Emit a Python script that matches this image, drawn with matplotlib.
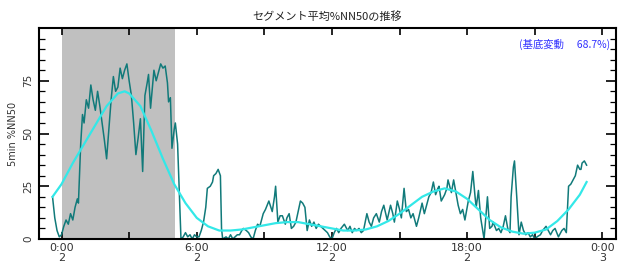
import matplotlib
matplotlib.use("Agg")
import matplotlib.pyplot as plt

# time in hours from 0:00 (day 2), 5min %NN50 values
t_hours = [-0.4, -0.3, -0.2, -0.1, 0.0, 0.1, 0.2, 0.3, 0.4, 0.5, 0.6, 0.7, 0.75, 0.85, 0.93,
           1.0, 1.1, 1.2, 1.3, 1.4, 1.5, 1.6, 1.7, 1.8, 1.9, 2.0, 2.1, 2.2, 2.3, 2.4, 2.5,
           2.6, 2.7, 2.8, 2.9, 3.0, 3.1, 3.2, 3.3, 3.4, 3.5, 3.6, 3.7, 3.8, 3.86, 3.95, 4.1,
           4.2, 4.3, 4.4, 4.5, 4.6, 4.7, 4.75, 4.83, 4.9, 5.0, 5.05, 5.15, 5.3, 5.4, 5.5,
           5.6, 5.7, 5.8, 5.9, 6.0, 6.1, 6.2, 6.3, 6.4, 6.47, 6.6, 6.7, 6.75, 6.85, 6.95,
           7.05, 7.1, 7.15, 7.3, 7.4, 7.5, 7.6, 7.7, 7.8, 7.9, 8.0, 8.07, 8.2, 8.3, 8.4,
           8.5, 8.6, 8.7, 8.8, 8.95, 9.05, 9.2, 9.35, 9.45, 9.5, 9.6, 9.7, 9.8, 9.93, 10.0,
           10.1, 10.2, 10.3, 10.4, 10.5, 10.6, 10.7, 10.8, 10.9, 11.0, 11.1, 11.2, 11.3,
           11.4, 11.5, 11.6, 11.7, 11.8, 11.9, 12.0, 12.1, 12.2, 12.3, 12.4, 12.55, 12.7,
           12.8, 12.9, 13.0, 13.1, 13.2, 13.3, 13.4, 13.55, 13.65, 13.75, 13.85, 13.97,
           14.1, 14.2, 14.3, 14.45, 14.6, 14.7, 14.77, 14.9, 15.0, 15.08, 15.2, 15.3, 15.4,
           15.5, 15.6, 15.75, 15.85, 16.0, 16.1, 16.2, 16.3, 16.4, 16.5, 16.6, 16.7, 16.75,
           16.85, 17.0, 17.1, 17.15, 17.3, 17.4, 17.5, 17.6, 17.7, 17.8, 17.9, 18.05, 18.15,
           18.25, 18.35, 18.4, 18.5, 18.6, 18.75, 18.9, 19.0, 19.1, 19.15, 19.3, 19.4, 19.5,
           19.6, 19.7, 19.8, 19.9, 19.95, 20.05, 20.1, 20.2, 20.3, 20.4, 20.5, 20.6, 20.7,
           20.8, 20.9, 21.0, 21.1, 21.25, 21.35, 21.5, 21.6, 21.7, 21.8, 21.9, 22.05, 22.2,
           22.3, 22.4, 22.5, 22.6, 22.7, 22.8, 22.9, 23.0, 23.05, 23.1, 23.2, 23.3]
nn50 = [20, 10, 4, 1, 2, 6, 9, 7, 12, 9, 15, 19, 17, 45, 59,
        55, 66, 62, 73, 66, 61, 70, 63, 55, 47, 38, 52, 66, 77, 70, 72,
        81, 76, 80, 83, 75, 68, 55, 40, 48, 57, 32, 68, 74, 78, 62, 80,
        75, 79, 83, 81, 82, 74, 65, 67, 43, 52, 55, 45, 0, 1, 3,
        1, 2, 0, 2, 1, 1, 4, 8, 15, 24, 25, 27, 30, 31, 33,
        30, 5, 0, 1, 0, 2, 0, 1, 2, 2, 4, 5, 4, 3, 1,
        0, 4, 7, 6, 12, 14, 18, 13, 20, 25, 8, 11, 11, 7, 10,
        12, 5, 6, 8, 13, 18, 17, 15, 4, 9, 6, 8, 5,
        7, 6, 5, 4, 3, 1, 0, 3, 5, 3, 5, 7, 4,
        6, 3, 5, 4, 5, 3, 4, 12, 8, 6, 10, 12,
        8, 13, 16, 9, 16, 12, 8, 18, 14, 10, 24, 13, 14,
        10, 12, 6, 10, 17, 12, 16, 20, 22, 27, 21, 24, 25,
        18, 21, 24, 28, 22, 28, 22, 16, 12, 14, 9, 18, 22,
        32, 20, 15, 23, 10, 0, 20, 5, 6, 8, 4, 5, 3,
        6, 11, 5, 3, 20, 34, 37, 20, 2, 8, 4, 2, 3,
        1, 2, 0, 1, 2, 4, 6, 4, 2, 4, 5, 1, 4,
        5, 3, 25, 26, 28, 30, 35, 33, 33, 36, 37, 35]

# fitted baseline curve
fit_hours = [-0.4, 0.0, 0.5, 1.0, 1.5, 2.0, 2.5, 2.8, 3.0, 3.5, 4.0, 4.5, 5.0, 5.5, 6.0,
             6.5, 7.0, 7.5, 8.0, 8.5, 9.0, 9.5, 10.0, 10.5, 11.0, 11.5, 12.0, 12.5, 13.0,
             13.5, 14.0, 14.5, 15.0, 15.5, 16.0, 16.5, 17.0, 17.5, 18.0, 18.5, 19.0, 19.5,
             20.0, 20.5, 21.0, 21.5, 22.0, 22.5, 23.0, 23.3]
fit_vals = [20, 26, 36, 45, 54, 63, 69, 70, 69, 63, 51, 38, 26, 17, 10,
            6, 4, 4, 4.5, 5.5, 6.5, 7.5, 8, 8, 7, 6, 5, 4, 4,
            4.5, 6, 8.5, 12, 16, 20, 22.5, 24, 22.5, 19, 14, 9, 5.5,
            3.5, 2.5, 3, 4.5, 8.5, 14, 21, 27]

shade_start, shade_end = 0.0, 5.05
tick_pos = [0, 6, 12, 18, 24]
tick_labels = ["0:00\n2", "6:00\n2", "12:00\n2", "18:00\n2", "0:00\n3"]

cjk = ["Noto Sans CJK JP", "DejaVu Sans"]

fig = plt.figure(figsize=(6.23, 2.75), dpi=100)
ax = fig.add_axes([0.0626, 0.131, 0.926, 0.767])

#shaded segment, raw line, fitted curve
ax.axvspan(shade_start, shade_end, color="#c0c0c0", lw=0, zorder=0)
ax.plot(t_hours, nn50, color="#117a7a", lw=1.1, zorder=2)
ax.plot(fit_hours, fit_vals, color="#33e8e8", lw=1.6, zorder=3)

ax.set_xlim(-1.0, 24.6)
ax.set_ylim(0, 100)

ax.set_xticks(tick_pos)
ax.set_xticklabels(tick_labels, fontsize=8, color="#333333", linespacing=1.0)
ax.set_xticks([3, 9, 15, 21], minor=True)
ax.tick_params(axis="x", which="both", direction="in", length=5, width=1.2,
               top=True, bottom=True, pad=3)

ax.set_yticks([0, 25, 50, 75])
ax.set_yticks(range(0, 100, 5), minor=True)
ax.set_yticklabels(["0", "25", "50", "75"], rotation=90, va="center",
                   fontsize=7.5, color="#333333")
ax.tick_params(axis="y", which="major", direction="in", length=7, width=1.2,
               left=True, right=True, pad=4)
ax.tick_params(axis="y", which="minor", direction="in", length=4, width=0.9,
               left=True, right=True)
ax.set_ylabel("5min %NN50", fontsize=7, color="#333333", labelpad=4)

for s in ax.spines.values():
    s.set_linewidth(1.5)

ax.set_title("セグメント平均%NN50の推移", family=cjk, fontsize=8, color="#222222", pad=6)
ax.text(0.99, 0.92, "(基底変動　 68.7%)", family=cjk, fontsize=7.5, color="#3333ff",
        ha="right", va="center", transform=ax.transAxes)

fig.savefig("out.png", dpi=100)
